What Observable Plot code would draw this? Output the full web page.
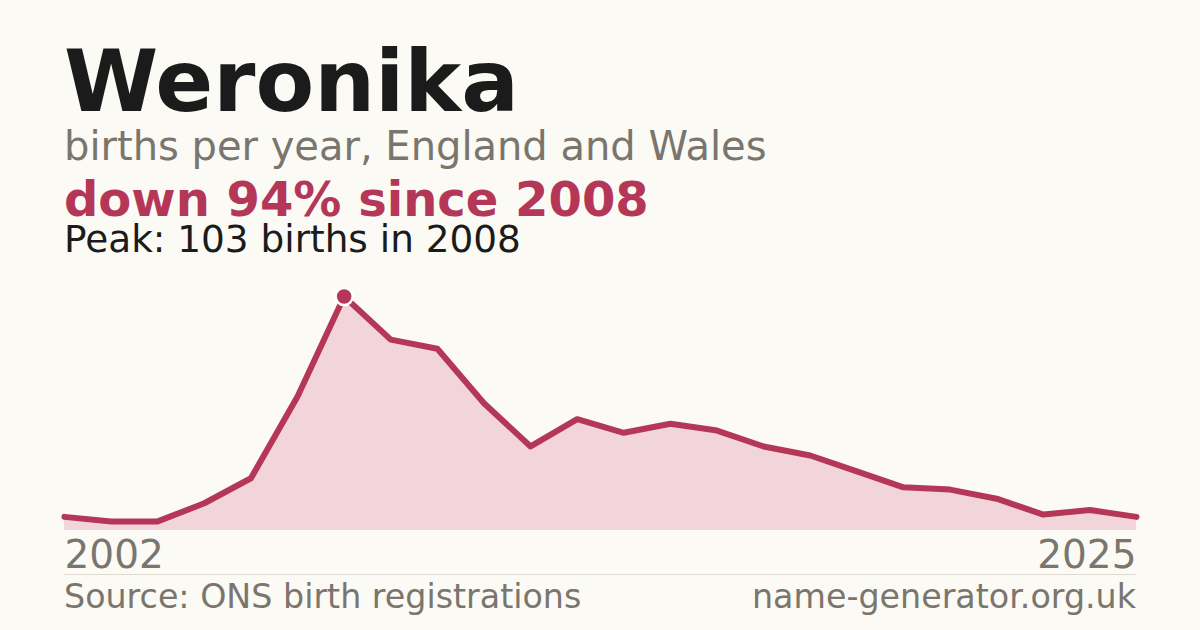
<!DOCTYPE html>
<html>
<head>
<meta charset="utf-8">
<script src="https://cdn.jsdelivr.net/npm/d3@7"></script>
<script src="https://cdn.jsdelivr.net/npm/@observablehq/plot@0.6"></script>
<style>
  html, body { margin: 0; padding: 0; background: #fbfaf5; }
  #page { position: relative; width: 1200px; height: 630px; overflow: hidden; font-family: "DejaVu Sans", sans-serif; background: #fbfaf5; }
  .t { position: absolute; left: 64px; white-space: nowrap; line-height: 0.8; margin: 0; }
  #title { font-size: 85.5px; font-weight: bold; color: #1b1b1b; top: 48px; }
  #sub { font-size: 40px; color: #7a756d; top: 129.5px; }
  #change { font-size: 48px; font-weight: bold; color: #b53758; top: 179.5px; }
  #peak { font-size: 37.4px; color: #1b1b1b; top: 225.2px; }
  #chart { position: absolute; left: 0; top: 270px; }
  #rule { position: absolute; left: 64px; width: 1072px; top: 574px; height: 1px; background: #dedad2; }
  #source { font-size: 33.3px; color: #7a756d; top: 584.3px; }
  #site { position: absolute; right: 64px; left: auto; font-size: 33.3px; color: #7a756d; top: 584.3px; white-space: nowrap; line-height: 0.8; }
</style>
</head>
<body>
<div id="page">
  <div class="t" id="title">Weronika</div>
  <div class="t" id="sub">births per year, England and Wales</div>
  <div class="t" id="change">down 94% since 2008</div>
  <div class="t" id="peak">Peak: 103 births in 2008</div>
  <div id="chart"></div>
  <div id="rule"></div>
  <div class="t" id="source">Source: ONS birth registrations</div>
  <div id="site">name-generator.org.uk</div>
</div>
<script>
const years = [2002, 2003, 2004, 2005, 2006, 2007, 2008, 2009, 2010, 2011, 2012, 2013,
               2014, 2015, 2016, 2017, 2018, 2019, 2020, 2021, 2022, 2023, 2024, 2025];
const births = [6, 4, 4, 12, 23, 59, 103, 84, 80, 56, 37, 49,
                43, 47, 44, 37, 33, 26, 19, 18, 14, 7, 9, 6];
const peakYear = 2008;
const peakValue = 103;
const axisStart = [2002];
const axisEnd = [2025];

const data = years.map((y, i) => ({year: y, births: births[i]}));
const crimson = "#b53758";

const chart = Plot.plot({
  width: 1200,
  height: 305,
  marginLeft: 64,
  marginRight: 64,
  marginTop: 26,
  marginBottom: 45,
  style: {background: "transparent", fontFamily: "DejaVu Sans, sans-serif", overflow: "visible"},
  x: {domain: [2002, 2025], label: null},
  y: {domain: [0, 103], axis: null},
  marks: [
    Plot.areaY(data, {x: "year", y: "births", fill: "#f2d5db"}),
    Plot.lineY(data, {x: "year", y: "births", stroke: crimson, strokeWidth: 6, strokeLinejoin: "round"}),
    Plot.dot([{year: peakYear, births: peakValue}], {x: "year", y: "births", r: 8.5, fill: crimson, stroke: "#ffffff", strokeWidth: 2.5}),
    Plot.axisX({ticks: axisStart, tickFormat: d => String(d), tickSize: 0, tickPadding: 10, fontSize: 39, textAnchor: "start", color: "#7a756d", label: null}),
    Plot.axisX({ticks: axisEnd, tickFormat: d => String(d), tickSize: 0, tickPadding: 10, fontSize: 39, textAnchor: "end", color: "#7a756d", label: null})
  ]
});
document.getElementById("chart").appendChild(chart);
</script>
</body>
</html>
